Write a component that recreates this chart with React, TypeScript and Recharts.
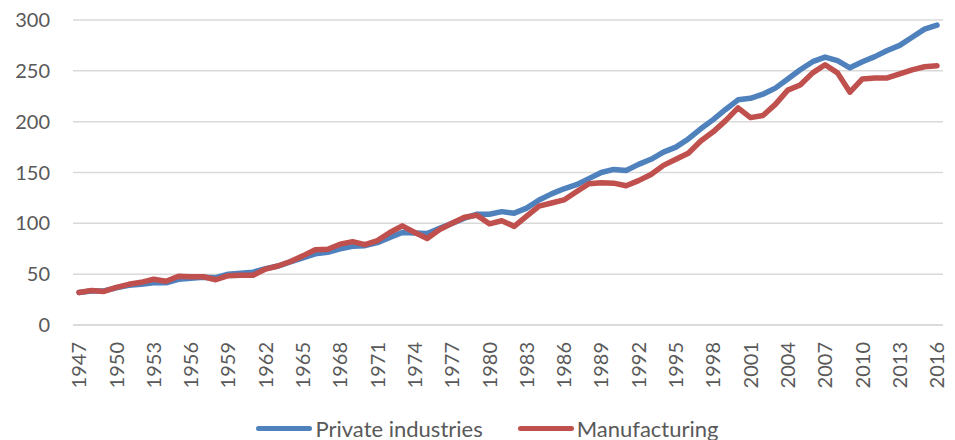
import React from "react";
import { LineChart, Line, XAxis, YAxis, CartesianGrid, Legend } from "recharts";

const years: number[] = [
  1947, 1948, 1949, 1950, 1951, 1952, 1953, 1954, 1955, 1956, 1957, 1958, 1959,
  1960, 1961, 1962, 1963, 1964, 1965, 1966, 1967, 1968, 1969, 1970, 1971, 1972,
  1973, 1974, 1975, 1976, 1977, 1978, 1979, 1980, 1981, 1982, 1983, 1984, 1985,
  1986, 1987, 1988, 1989, 1990, 1991, 1992, 1993, 1994, 1995, 1996, 1997, 1998,
  1999, 2000, 2001, 2002, 2003, 2004, 2005, 2006, 2007, 2008, 2009, 2010, 2011,
  2012, 2013, 2014, 2015, 2016,
];

const privateIndustries: number[] = [
  32, 33.5, 33.5, 36.5, 39, 40, 41.5, 41.5, 45, 46, 47, 46.5, 50,
  51, 52, 55.5, 58, 62, 66, 70, 71.5, 75, 77.5, 78, 81, 86,
  91, 90.5, 90, 95, 100, 105, 109, 109, 111.5, 110, 115, 123, 129,
  134, 138, 144, 150, 153, 152, 158, 163, 170, 175, 183, 193, 202,
  212, 221.5, 223, 227, 233, 242, 251, 259, 263.5, 260, 253, 259, 264,
  270, 275, 283, 291, 295,
];

const manufacturing: number[] = [
  32, 34, 33, 37, 40, 42, 45, 43, 48, 47.5, 47.5, 44.5, 48.5,
  49, 49, 55, 58, 62.5, 68, 74, 74.5, 79.5, 82, 79, 83, 91,
  97.5, 91, 85, 94, 100, 106, 108, 99.5, 102.5, 97, 107, 117, 120,
  123, 131, 139, 140, 139.5, 137, 142, 148, 157, 163, 169, 181, 190,
  201, 213.5, 204, 206, 217, 231, 236, 248, 256, 248, 229, 242, 243,
  243, 247, 251, 254, 255,
];

const yTicks: number[] = [0, 50, 100, 150, 200, 250, 300];

const seriesNames = ["Private industries", "Manufacturing"];
const seriesColors = ["#4f81bd", "#c0504d"];

const data = years.map((y, i) => ({
  year: String(y),
  priv: privateIndustries[i],
  manu: manufacturing[i],
}));

const FONT = "Lato, 'Open Sans', sans-serif";
const TEXT_COLOR = "#595959";

const XTick = (props: any) => {
  const { x, y, payload } = props;
  return (
    <g transform={`translate(${x},${y + 17}) rotate(-90)`}>
      <text
        x={0}
        y={0}
        textAnchor="end"
        dy="0.36em"
        fill={TEXT_COLOR}
        fontSize={20}
        fontFamily={FONT}
      >
        {payload.value}
      </text>
    </g>
  );
};

const LegendContent = () => (
  <div
    style={{
      height: 30,
      display: "flex",
      justifyContent: "center",
      alignItems: "center",
      paddingLeft: 20,
      paddingTop: 6,
      boxSizing: "border-box",
      fontFamily: FONT,
      fontSize: 22,
      color: TEXT_COLOR,
    }}
  >
    {seriesNames.map((n, i) => (
      <div
        key={n}
        style={{ display: "flex", alignItems: "center", marginRight: i === 0 ? 35 : 0 }}
      >
        <div
          style={{
            width: 56,
            height: 5,
            borderRadius: 3,
            background: seriesColors[i],
            marginRight: 3,
          }}
        />
        <span>{n}</span>
      </div>
    ))}
  </div>
);

export default function App() {
  return (
    <div style={{ position: "absolute", left: 0, top: 0 }}>
      <LineChart
        width={955}
        height={440}
        data={data}
        margin={{ top: 20, right: 12, left: 0, bottom: 0 }}
      >
        <CartesianGrid vertical={false} stroke="#d9d9d9" strokeWidth={1.5} />
        <XAxis
          dataKey="year"
          interval={2}
          height={85}
          tickLine={false}
          tickSize={0}
          tickMargin={0}
          axisLine={{ stroke: "#d9d9d9", strokeWidth: 1.5 }}
          padding={{ left: 6, right: 6 }}
          tick={<XTick />}
        />
        <YAxis
          width={73}
          domain={[0, 300]}
          ticks={yTicks}
          axisLine={false}
          tickLine={false}
          tickSize={0}
          tickMargin={23}
          tick={{ fill: TEXT_COLOR, fontSize: 20, fontFamily: FONT }}
        />
        <Legend verticalAlign="bottom" height={30} wrapperStyle={{ left: 0, width: 955 }} content={<LegendContent />} />
        <Line
          type="linear"
          dataKey="priv"
          name={seriesNames[0]}
          stroke={seriesColors[0]}
          strokeWidth={5.5}
          dot={false}
          strokeLinecap="round"
          strokeLinejoin="round"
          isAnimationActive={false}
        />
        <Line
          type="linear"
          dataKey="manu"
          name={seriesNames[1]}
          stroke={seriesColors[1]}
          strokeWidth={5.5}
          dot={false}
          strokeLinecap="round"
          strokeLinejoin="round"
          isAnimationActive={false}
        />
      </LineChart>
    </div>
  );
}
